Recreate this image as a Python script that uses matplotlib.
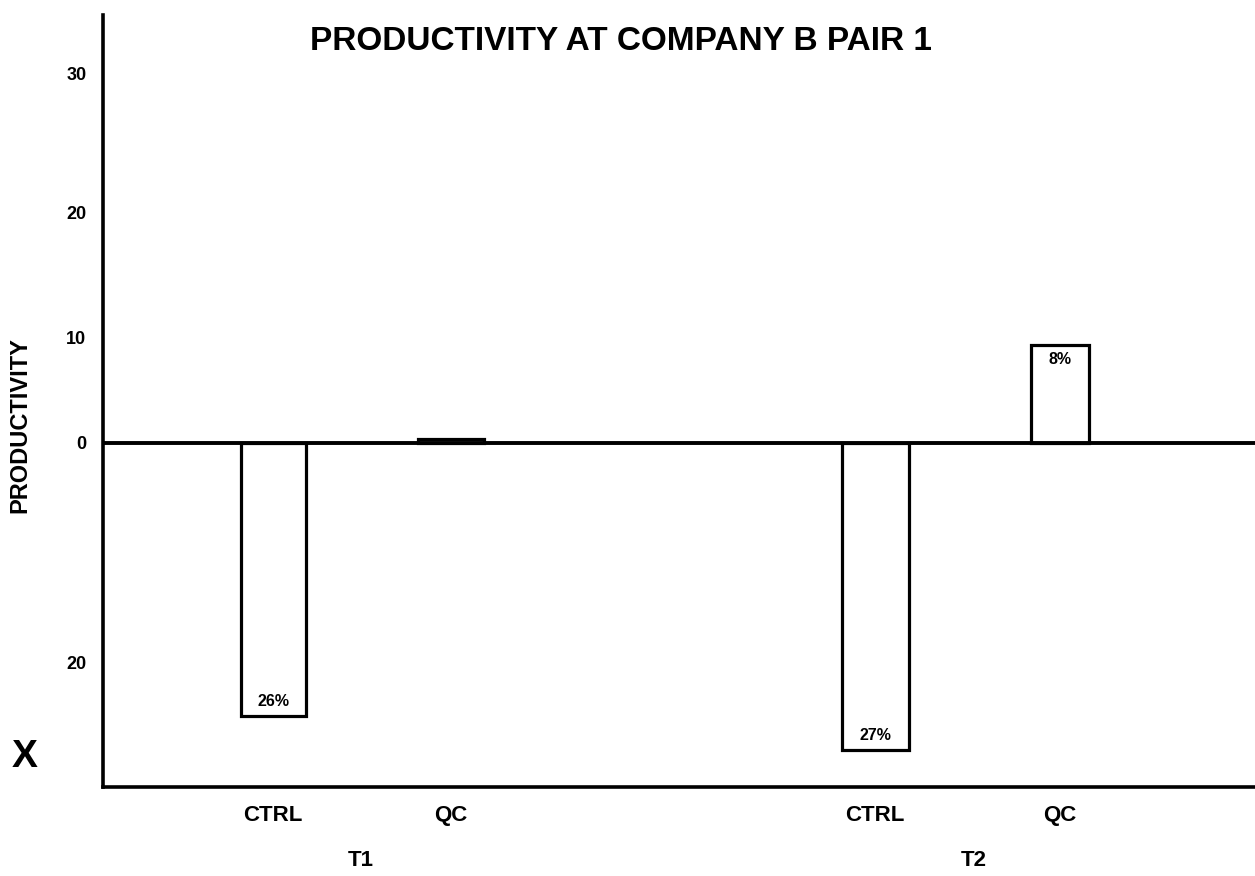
import numpy as np
import matplotlib
matplotlib.use("Agg")
import matplotlib.pyplot as plt
import matplotlib.transforms as mtransforms

# -----------------------------
# data
# -----------------------------
bar_labels = ["CTRL", "QC", "CTRL", "QC"]
bar_values = [-24.8, 0.3, -27.9, 8.9]
pct_labels = ["26%", "", "27%", "8%"]
groups = ["T1", "T2"]
ytick_labels = ["30", "20", "10", "0", "20"]

# layout (x in units of 100 px from the y axis)
x_pos = [1.70, 3.48, 7.72, 9.57]
widths = [0.65, 0.66, 0.67, 0.58]
group_pos = [2.58, 8.71]
ytick_pos = [33.6, 20.9, 9.6, 0, -20]

plt.rcParams['font.family'] = ['Liberation Sans', 'DejaVu Sans']
plt.rcParams['font.weight'] = 'bold'

fig = plt.figure(figsize=(12.55, 8.76), dpi=100)
ax = fig.add_axes([103 / 1255, 1 - 787 / 876, 1 - 103 / 1255, (787 - 15) / 876])

ax.bar(x_pos, bar_values, width=widths, color='white', edgecolor='black',
       linewidth=2.3, zorder=3)
ax.axhline(0, color='black', linewidth=2.8, zorder=4)

# percent labels inside the far end of each bar
for x, v, lab in zip(x_pos, bar_values, pct_labels):
    if not lab:
        continue
    if v < 0:
        ax.text(x, v + 0.6, lab, ha='center', va='bottom', fontsize=11.5,
                fontweight='bold', zorder=5)
    else:
        ax.text(x, v - 0.6, lab, ha='center', va='top', fontsize=11.5,
                fontweight='bold', zorder=5)

ax.set_xlim(0, 11.52)
ax.set_ylim(-31.3, 38.9)

ax.set_yticks(ytick_pos)
ax.set_yticklabels(ytick_labels, fontsize=13, fontweight='bold')
ax.set_xticks(x_pos)
ax.set_xticklabels(bar_labels, fontsize=16, fontweight='bold')
ax.tick_params(axis='both', length=0)
ax.tick_params(axis='y', pad=12)
ax.tick_params(axis='x', pad=13)

for s in ['top', 'right']:
    ax.spines[s].set_visible(False)
for s in ['left', 'bottom']:
    ax.spines[s].set_linewidth(2.6)

# group labels under the category labels
trans = mtransforms.blended_transform_factory(ax.transData, fig.transFigure)
for gx, g in zip(group_pos, groups):
    ax.text(gx, 1 - 860 / 876, g, transform=trans, ha='center', va='center',
            fontsize=16, fontweight='bold')

fig.text(621 / 1255, 1 - 42 / 876, "PRODUCTIVITY AT COMPANY B PAIR 1",
         ha='center', va='center', fontsize=24, fontweight='bold')
fig.text(20 / 1255, 1 - 425 / 876, "PRODUCTIVITY", rotation=90,
         ha='center', va='center', fontsize=17, fontweight='bold')
fig.text(25 / 1255, 1 - 757 / 876, "X", ha='center', va='center',
         fontsize=28, fontweight='bold')

fig.savefig("out.png", dpi=100)
